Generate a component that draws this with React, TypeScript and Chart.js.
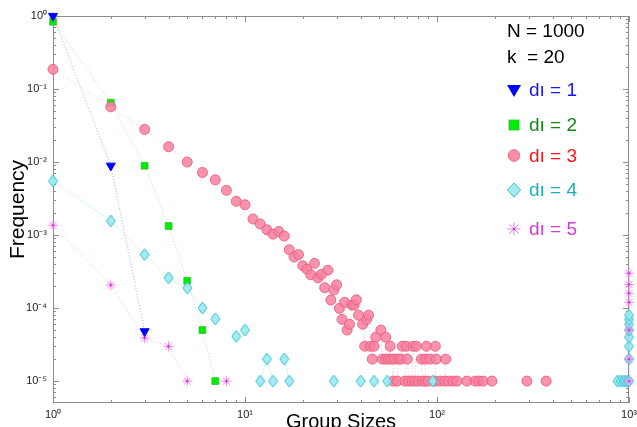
import React, { useEffect, useRef } from 'react';
import { Chart, registerables } from 'chart.js';

Chart.register(...registerables);

// ---------------- data ----------------
const seriesLabels = ['dı = 1', 'dı = 2', 'dı = 3', 'dı = 4', 'dı = 5'];
const infoLines = ['N = 1000', 'k  = 20'];
const xTitle = 'Group Sizes';
const yTitle = 'Frequency';

const d1X = [1, 2, 3];
const d1Y = [1, 0.0089, 0.000048];

const d2X = [1, 2, 3, 4, 5, 6, 7];
const d2Y = [0.835, 0.065, 0.0089, 0.00133, 0.000237, 0.00005, 0.00001];

const d3X = [
  1, 2, 3, 4, 5, 6, 7, 8, 9, 10, 11, 12, 13, 14, 15, 16, 17, 18, 19, 20,
  21, 22, 23, 24, 25, 26, 27, 28, 29, 30, 31, 32, 33, 34, 35, 36, 37, 38, 39, 41,
  42, 43, 44, 45, 46, 47, 48, 51, 52, 54, 54, 56, 57, 58, 59, 60, 62, 63, 65, 66,
  68, 69, 70, 71, 74, 75, 77, 78, 80, 83, 84, 87, 87, 88, 90, 92, 98, 98, 99, 104,
  110, 111, 115, 121, 127, 143, 158, 165, 174, 193, 294, 370,
];
const d3Y = [
  0.186, 0.057, 0.028, 0.0162, 0.01, 0.0072, 0.0057, 0.0041, 0.0029, 0.0026,
  0.00166, 0.00142, 0.00118, 0.00103, 0.00112, 0.00097, 0.00063, 0.0005, 0.00054, 0.00038,
  0.00034, 0.000286, 0.00041, 0.00026, 0.00029, 0.00019, 0.00033, 0.000129, 0.000177, 0.000208,
  0.000099, 0.00007, 0.00012, 0.00005, 0.00006, 0.00011, 0.00011, 0.00013, 0.00008, 0.00006,
  0.00003, 0.00007, 0.00008, 0.00003, 0.00002, 0.00003, 0.00004, 0.00005, 0.00002, 0.00004,
  0.00002, 0.00002, 0.00003, 0.00002, 0.00001, 0.00002, 0.00001, 0.00002, 0.00002, 0.00003,
  0.00001, 0.00003, 0.00002, 0.00001, 0.00001, 0.00003, 0.00001, 0.00003, 0.00001, 0.00002,
  0.00001, 0.00001, 0.00002, 0.00003, 0.00001, 0.00002, 0.00001, 0.00003, 0.00002, 0.00001,
  0.00001, 0.00002, 0.00001, 0.00001, 0.00001, 0.00001, 0.00001, 0.00001, 0.00001, 0.00001,
  0.00001, 0.00001,
];

const d4X = [
  1, 2, 3, 4, 5, 6, 7, 9, 10, 12, 13, 14, 16, 17, 29, 40, 47, 55, 95,
  870, 905, 935, 960, 985, 1000, 1000, 1000, 1000, 1000, 1000, 1000, 1000,
];
const d4Y = [
  0.0055, 0.00156, 0.00054, 0.00026, 0.000188, 0.0001, 0.000071, 0.000041, 0.00005,
  0.00001, 0.00002, 0.00001, 0.00002, 0.00001, 0.00001, 0.00001, 0.00001, 0.00001, 0.00001,
  0.00001, 0.00001, 0.00001, 0.00001, 0.00001, 0.00001, 0.00002, 0.00003, 0.00004,
  0.00005, 0.00006, 0.00007, 0.00008,
];

const d5X = [1, 2, 3, 4, 5, 8, 1000, 1000, 1000, 1000, 1000, 1000, 1000];
const d5Y = [0.00136, 0.000207, 0.000039, 0.00003, 0.00001, 0.00001, 0.00001, 0.00002, 0.00005, 0.00012, 0.00016, 0.00021, 0.0003];

const xMin = 1;
const xMax = 1000;
const yMin = Math.pow(10, -5.3);
const yMax = 1;

// ---------------- styling ----------------
const FONT = '"Liberation Sans", Arial, Helvetica, sans-serif';
const legendTextColors = ['#1414ff', '#128a12', '#ff1414', '#14b4bc', '#d43cd4'];
const lineColors = [
  'rgba(110,110,255,0.6)',
  'rgba(90,190,90,0.45)',
  'rgba(250,140,150,0.5)',
  'rgba(80,205,215,0.6)',
  'rgba(225,120,225,0.55)',
];

const SUP: Record<string, string> = {
  '-': '⁻', '0': '⁰', '1': '¹', '2': '²', '3': '³', '4': '⁴', '5': '⁵', '6': '⁶', '7': '⁷', '8': '⁸', '9': '⁹',
};

function decadeExp(v: number): number | null {
  const l = Math.log10(v);
  const r = Math.round(l);
  return Math.abs(l - r) < 1e-9 ? r : null;
}

function logTicks(min: number, max: number) {
  const out: { value: number }[] = [];
  const e0 = Math.floor(Math.log10(min));
  const e1 = Math.ceil(Math.log10(max));
  for (let e = e0; e <= e1; e++) {
    for (let k = 1; k <= 9; k++) {
      const v = Number((k * Math.pow(10, e)).toPrecision(12));
      if (v >= min * 0.999999 && v <= max * 1.000001) out.push({ value: v });
    }
  }
  return out;
}

function tickLabel(v: number): string {
  const e = decadeExp(v);
  if (e === null) return '';
  return '10' + String(e).split('').map((c) => SUP[c] || c).join('');
}

function drawDiamond(ctx: CanvasRenderingContext2D, cx: number, cy: number, hw: number, hh: number) {
  ctx.beginPath();
  ctx.moveTo(cx, cy - hh);
  ctx.lineTo(cx + hw, cy);
  ctx.lineTo(cx, cy + hh);
  ctx.lineTo(cx - hw, cy);
  ctx.closePath();
  ctx.fillStyle = 'rgba(160,232,242,0.92)';
  ctx.fill();
  ctx.strokeStyle = '#2cc2cc';
  ctx.lineWidth = 1;
  ctx.stroke();
}

function drawStar(ctx: CanvasRenderingContext2D, cx: number, cy: number, r: number) {
  ctx.strokeStyle = '#ee82ee';
  ctx.lineWidth = 1;
  ctx.beginPath();
  const d = r * Math.SQRT1_2;
  ctx.moveTo(cx - r, cy); ctx.lineTo(cx + r, cy);
  ctx.moveTo(cx, cy - r); ctx.lineTo(cx, cy + r);
  ctx.moveTo(cx - d, cy - d); ctx.lineTo(cx + d, cy + d);
  ctx.moveTo(cx - d, cy + d); ctx.lineTo(cx + d, cy - d);
  ctx.stroke();
  ctx.fillStyle = '#b820b8';
  ctx.beginPath();
  ctx.arc(cx, cy, 1.1, 0, Math.PI * 2);
  ctx.fill();
}

function makeImg(w: number, h: number, draw: (c: CanvasRenderingContext2D) => void) {
  const c = document.createElement('canvas');
  c.width = w;
  c.height = h;
  const g = c.getContext('2d')!;
  draw(g);
  return c;
}

const pts = (xs: number[], ys: number[]) => xs.map((x, i) => ({ x, y: ys[i] }));

const segFor = (xs: number[], color: string) => ({
  borderColor: (ctx: any) =>
    Math.abs(xs[ctx.p1DataIndex] - xs[ctx.p0DataIndex]) <= 1.01 ? color : 'rgba(0,0,0,0)',
});

const framePlugin = {
  id: 'frame',
  beforeDatasetsDraw(chart: any) {
    const { ctx, chartArea: a, scales } = chart;
    const xs = scales.x;
    const ys = scales.y;
    ctx.save();
    ctx.strokeStyle = '#8c8c8c';
    ctx.lineWidth = 1;
    ctx.beginPath();
    for (const t of xs.ticks) {
      const px = Math.round(xs.getPixelForValue(t.value)) + 0.5;
      const L = decadeExp(t.value) !== null ? 6 : 3;
      ctx.moveTo(px, a.bottom); ctx.lineTo(px, a.bottom - L);
      ctx.moveTo(px, a.top); ctx.lineTo(px, a.top + L);
    }
    for (const t of ys.ticks) {
      const py = Math.round(ys.getPixelForValue(t.value)) + 0.5;
      const L = decadeExp(t.value) !== null ? 6 : 3;
      ctx.moveTo(a.left, py); ctx.lineTo(a.left + L, py);
      ctx.moveTo(a.right, py); ctx.lineTo(a.right - L, py);
    }
    ctx.stroke();
    ctx.strokeRect(Math.round(a.left) + 0.5, Math.round(a.top) + 0.5, Math.round(a.width) - 1, Math.round(a.height) - 1);
    ctx.restore();
  },
};

const legendPlugin = {
  id: 'customLegend',
  afterDraw(chart: any) {
    const ctx: CanvasRenderingContext2D = chart.ctx;
    ctx.save();
    ctx.font = `19px ${FONT}`;
    ctx.textBaseline = 'alphabetic';
    ctx.textAlign = 'left';
    ctx.fillStyle = '#000';
    ctx.fillText(infoLines[0], 507, 37);
    ctx.fillText(infoLines[1], 507, 63);

    const mx = 514;
    const rows = [
      { cy: 90.5, base: 96 },
      { cy: 125, base: 130.5 },
      { cy: 155.5, base: 161.5 },
      { cy: 190, base: 196 },
      { cy: 229, base: 235 },
    ];
    // triangle
    ctx.beginPath();
    ctx.moveTo(mx - 7, rows[0].cy - 5.5);
    ctx.lineTo(mx + 7, rows[0].cy - 5.5);
    ctx.lineTo(mx, rows[0].cy + 6.5);
    ctx.closePath();
    ctx.fillStyle = '#0000ff';
    ctx.fill();
    // square
    ctx.fillStyle = '#00ee00';
    ctx.fillRect(mx - 5, rows[1].cy - 5, 10, 10);
    ctx.strokeStyle = '#33bb33';
    ctx.lineWidth = 0.8;
    ctx.strokeRect(mx - 5, rows[1].cy - 5, 10, 10);
    // circle
    ctx.beginPath();
    ctx.arc(mx, rows[2].cy, 5.8, 0, Math.PI * 2);
    ctx.fillStyle = 'rgba(248,128,160,0.9)';
    ctx.fill();
    ctx.strokeStyle = 'rgba(235,95,125,0.9)';
    ctx.lineWidth = 1;
    ctx.stroke();
    // diamond
    drawDiamond(ctx, mx, rows[3].cy, 6.5, 7);
    // star
    drawStar(ctx, mx, rows[4].cy, 6.5);

    rows.forEach((r, i) => {
      ctx.fillStyle = legendTextColors[i];
      ctx.fillText(seriesLabels[i], 529, r.base);
    });
    ctx.restore();
  },
};

export default function App() {
  const ref = useRef<HTMLCanvasElement>(null);

  useEffect(() => {
    const canvas = ref.current;
    if (!canvas) return;
    Chart.defaults.font.family = FONT;

    const diamondImg = makeImg(11, 14, (g) => drawDiamond(g, 5.5, 7, 4.5, 6));
    const starImg = makeImg(13, 13, (g) => drawStar(g, 6.5, 6.5, 5));

    const common = {
      showLine: true,
      borderWidth: 1,
      borderDash: [1, 2],
      clip: false as any,
    };

    const chart = new Chart(canvas, {
      type: 'scatter',
      data: {
        datasets: [
          {
            ...common,
            label: seriesLabels[0],
            data: pts(d1X, d1Y),
            borderColor: lineColors[0],
            segment: segFor(d1X, lineColors[0]),
            pointStyle: 'triangle',
            rotation: 180,
            pointRadius: 5.2,
            pointBackgroundColor: '#0000ff',
            pointBorderColor: '#0000ff',
            pointBorderWidth: 1,
            order: 1,
          },
          {
            ...common,
            label: seriesLabels[1],
            data: pts(d2X, d2Y),
            borderColor: lineColors[1],
            segment: segFor(d2X, lineColors[1]),
            pointStyle: 'rect',
            pointRadius: 4.8,
            pointBackgroundColor: '#00ee00',
            pointBorderColor: '#33bb33',
            pointBorderWidth: 0.8,
            order: 5,
          },
          {
            ...common,
            label: seriesLabels[2],
            data: pts(d3X, d3Y),
            borderColor: lineColors[2],
            segment: segFor(d3X, lineColors[2]),
            pointStyle: 'circle',
            pointRadius: 5,
            pointBackgroundColor: 'rgba(248,128,160,0.85)',
            pointBorderColor: 'rgba(235,95,125,0.9)',
            pointBorderWidth: 1,
            order: 4,
          },
          {
            ...common,
            label: seriesLabels[3],
            data: pts(d4X, d4Y),
            borderColor: lineColors[3],
            segment: segFor(d4X, lineColors[3]),
            pointStyle: diamondImg as any,
            pointRadius: 5,
            order: 3,
          },
          {
            ...common,
            label: seriesLabels[4],
            data: pts(d5X, d5Y),
            borderColor: lineColors[4],
            segment: segFor(d5X, lineColors[4]),
            pointStyle: starImg as any,
            pointRadius: 5,
            order: 2,
          },
        ] as any,
      },
      options: {
        responsive: false,
        devicePixelRatio: 1,
        animation: false,
        events: [],
        layout: { padding: { left: 0, right: 8, top: 16, bottom: 0 } },
        plugins: {
          legend: { display: false },
          tooltip: { enabled: false },
        },
        scales: {
          x: {
            type: 'logarithmic',
            position: 'bottom',
            min: xMin,
            max: xMax,
            afterBuildTicks: (s: any) => { s.ticks = logTicks(xMin, xMax); },
            afterFit: (s: any) => { s.height = 37; s.paddingLeft = 0; s.paddingRight = 0; },
            grid: { display: false, drawTicks: false },
            border: { display: false },
            ticks: {
              autoSkip: false,
              maxRotation: 0,
              minRotation: 0,
              padding: 5,
              color: '#222',
              font: { size: 11, family: FONT },
              callback: (v: any) => tickLabel(Number(v)),
            },
            title: {
              display: true,
              text: xTitle,
              color: '#000',
              font: { size: 20, family: FONT },
              padding: { top: 0, bottom: 6 },
            },
          },
          y: {
            type: 'logarithmic',
            position: 'left',
            min: yMin,
            max: yMax,
            afterBuildTicks: (s: any) => { s.ticks = logTicks(yMin, yMax); },
            afterFit: (s: any) => { s.width = 53; s.paddingTop = 0; s.paddingBottom = 0; },
            grid: { display: false, drawTicks: false },
            border: { display: false },
            ticks: {
              autoSkip: false,
              padding: 6,
              color: '#222',
              font: { size: 11, family: FONT },
              callback: (v: any) => tickLabel(Number(v)),
            },
            title: {
              display: true,
              text: yTitle,
              color: '#000',
              font: { size: 21, family: FONT },
              padding: { top: 6, bottom: 0 },
            },
          },
        },
      } as any,
      plugins: [framePlugin, legendPlugin],
    });

    return () => chart.destroy();
  }, []);

  return (
    <div
      style={{
        position: 'fixed',
        left: 0,
        top: 0,
        width: 637,
        height: 427,
        overflow: 'hidden',
        background: '#fff',
      }}
    >
      <canvas ref={ref} width={637} height={440} style={{ display: 'block' }} />
    </div>
  );
}
